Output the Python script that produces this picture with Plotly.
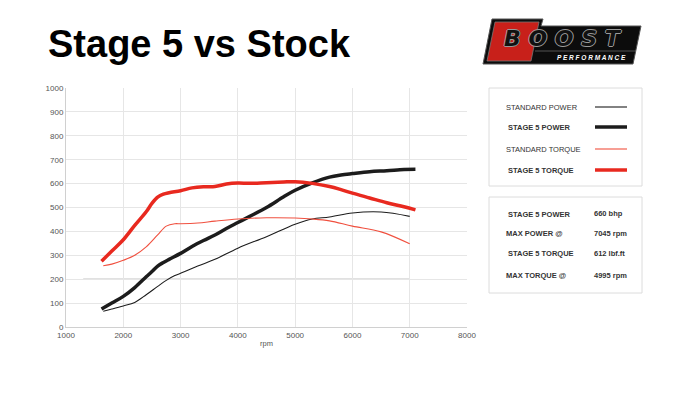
import plotly.graph_objects as go

rpm_stage5 = [1620, 1800, 2000, 2200, 2400, 2500, 2600, 2700, 2800, 3000, 3200, 3400, 3600, 3800,
              4000, 4200, 4500, 4800, 5000, 5300, 5600, 5800, 6000, 6300, 6600, 6900, 7100]
stage5_torque = [275, 318, 365, 425, 482, 517, 543, 556, 562, 570, 582, 587, 588, 598,
                 602, 601, 604, 607, 608, 601, 588, 575, 560, 540, 520, 503, 490]
stage5_power = [75, 100, 128, 165, 210, 232, 255, 270, 283, 308, 337, 362, 385, 412,
                437, 462, 500, 545, 572, 603, 627, 636, 642, 650, 654, 659, 660]

rpm_std = [1650, 1800, 2000, 2200, 2400, 2600, 2750, 2900, 3000, 3300, 3600, 4000, 4500,
           5000, 5300, 5600, 6000, 6500, 7000]
std_torque = [256, 263, 279, 300, 335, 385, 422, 432, 432, 435, 443, 452, 457,
              456, 452, 444, 422, 398, 348]
std_power = [66, 75, 88, 103, 135, 170, 195, 215, 225, 255, 283, 330, 378,
             430, 452, 460, 477, 481, 463]

legend_labels = ["STANDARD POWER", "STAGE 5 POWER", "STANDARD TORQUE", "STAGE 5 TORQUE"]
stat_labels = ["STAGE 5 POWER", "MAX POWER @", "STAGE 5 TORQUE", "MAX TORQUE @"]
stat_values = ["660 bhp", "7045 rpm", "612 lbf.ft", "4995 rpm"]

BLACK = "#1c1c1c"
RED = "#e8291f"
RED_LIGHT = "#f0503f"
FONT = "Liberation Sans"

fig = go.Figure()

series = [
    (rpm_std, std_power, BLACK, 1.1),
    (rpm_stage5, stage5_power, BLACK, 3.5),
    (rpm_std, std_torque, RED_LIGHT, 1.1),
    (rpm_stage5, stage5_torque, RED, 3.5),
]
for x, y, color, width in series:
    fig.add_trace(go.Scatter(
        x=x, y=y, mode="lines",
        line=dict(color=color, width=width, shape="spline", smoothing=1.0),
        showlegend=False, hoverinfo="skip",
    ))

# zone de tracé voulue à l'écran : x 66..467, y 88..327 (la page ajoute 8px de marge)
W, H = 700, 400
OFF = 8
L, R, T, B = 66 - OFF, 467 - OFF, 88 - OFF, 327 - OFF
def px(x): return (x - OFF - L) / (R - L)
def py(y): return (B - (y - OFF)) / (B - T)
def path(points): return "M " + " L ".join(f"{px(a)},{py(b)}" for a, b in points) + " Z"

shapes = [
    dict(type="rect", xref="paper", yref="paper", x0=px(489), x1=px(642), y0=py(88), y1=py(186),
         line=dict(color="#dcdcdc", width=1)),
    dict(type="rect", xref="paper", yref="paper", x0=px(489), x1=px(642), y0=py(197), y1=py(293),
         line=dict(color="#dcdcdc", width=1)),
    # trait gris plus foncé à 200
    dict(type="line", xref="x", yref="y", x0=1300, x1=7000, y0=200, y1=200,
         line=dict(color="#c4c4c4", width=1.2), layer="below"),
]
annotations = []

leg_y = [107, 127, 149, 170]
for i, (x, y, color, width) in enumerate(series):
    shapes.append(dict(type="line", xref="paper", yref="paper", x0=px(595), x1=px(627),
                       y0=py(leg_y[i]), y1=py(leg_y[i]), line=dict(color=color, width=width)))
    bold = "STAGE" in legend_labels[i]
    annotations.append(dict(
        x=px(504 + (2 if bold else 0)), y=py(leg_y[i]), xref="paper", yref="paper",
        text=f"<b>{legend_labels[i]}</b>" if bold else legend_labels[i],
        showarrow=False, xanchor="left", yanchor="middle",
        font=dict(family=FONT, size=7.5, color="#333")))

stat_y = [214, 234, 254, 275]
for i in range(4):
    annotations.append(dict(
        x=px(504 + (2 if "STAGE" in stat_labels[i] else 0)), y=py(stat_y[i]), xref="paper", yref="paper",
        text=f"<b>{stat_labels[i]}</b>", showarrow=False, xanchor="left", yanchor="middle",
        font=dict(family=FONT, size=7.5, color="#333")))
    annotations.append(dict(
        x=px(592), y=py(stat_y[i] - (1 if i == 0 else 0)), xref="paper", yref="paper",
        text=f"<b>{stat_values[i]}</b>", showarrow=False, xanchor="left", yanchor="middle",
        font=dict(family=FONT, size=7.5, color="#333")))

# titre
annotations.append(dict(
    x=px(46), y=py(44), xref="paper", yref="paper", text="<b>Stage 5 vs Stock</b>",
    showarrow=False, xanchor="left", yanchor="middle",
    font=dict(family=FONT, size=38, color="#000")))

# logo approximatif
shapes += [
    dict(type="path", xref="paper", yref="paper",
         path=path([(483, 64), (492, 19), (543, 19), (541, 26), (641, 26), (633, 64)]),
         fillcolor="#0c0c0c", line=dict(color="#555", width=1)),
    dict(type="path", xref="paper", yref="paper",
         path=path([(487, 61), (495, 22), (539, 22), (531, 61)]),
         fillcolor="#c8201a", line=dict(color="#777", width=0.8)),
    dict(type="line", xref="paper", yref="paper", x0=px(535), x1=px(636), y0=py(51), y1=py(51),
         line=dict(color="#666", width=0.8)),
]
annotations += [
    dict(x=px(563), y=py(39), xref="paper", yref="paper", text="<b><i>B O O S T</i></b>",
         showarrow=False, xanchor="center", yanchor="middle",
         font=dict(family="DejaVu Sans", size=22, color="#111",
                   shadow="1px 0 0 #9a9a9a, -1px 0 0 #9a9a9a, 0 1px 0 #9a9a9a, 0 -1px 0 #9a9a9a")),
    dict(x=px(591), y=py(57), xref="paper", yref="paper", text="<b><i>P E R F O R M A N C E</i></b>",
         showarrow=False, xanchor="center", yanchor="middle",
         font=dict(family=FONT, size=6.5, color="#fff")),
]

fig.update_layout(
    width=W, height=H,
    margin=dict(l=L, r=W - R, t=T, b=H - B),
    paper_bgcolor="white", plot_bgcolor="white",
    shapes=shapes, annotations=annotations,
    xaxis=dict(range=[1000, 8000], dtick=1000, showgrid=True, gridcolor="#e6e6e6", gridwidth=1,
               zeroline=False, showline=True, linecolor="#d0d0d0", mirror=False,
               tickfont=dict(family=FONT, size=8, color="#555"), ticks="",
               title=dict(text="rpm", font=dict(family=FONT, size=7.5, color="#555"), standoff=2)),
    yaxis=dict(range=[0, 1000], dtick=100, showgrid=True, gridcolor="#e6e6e6", gridwidth=1,
               zeroline=False, showline=True, linecolor="#d0d0d0",
               tickfont=dict(family=FONT, size=8, color="#555"), ticks=""),
)

fig.write_html("out.html")
